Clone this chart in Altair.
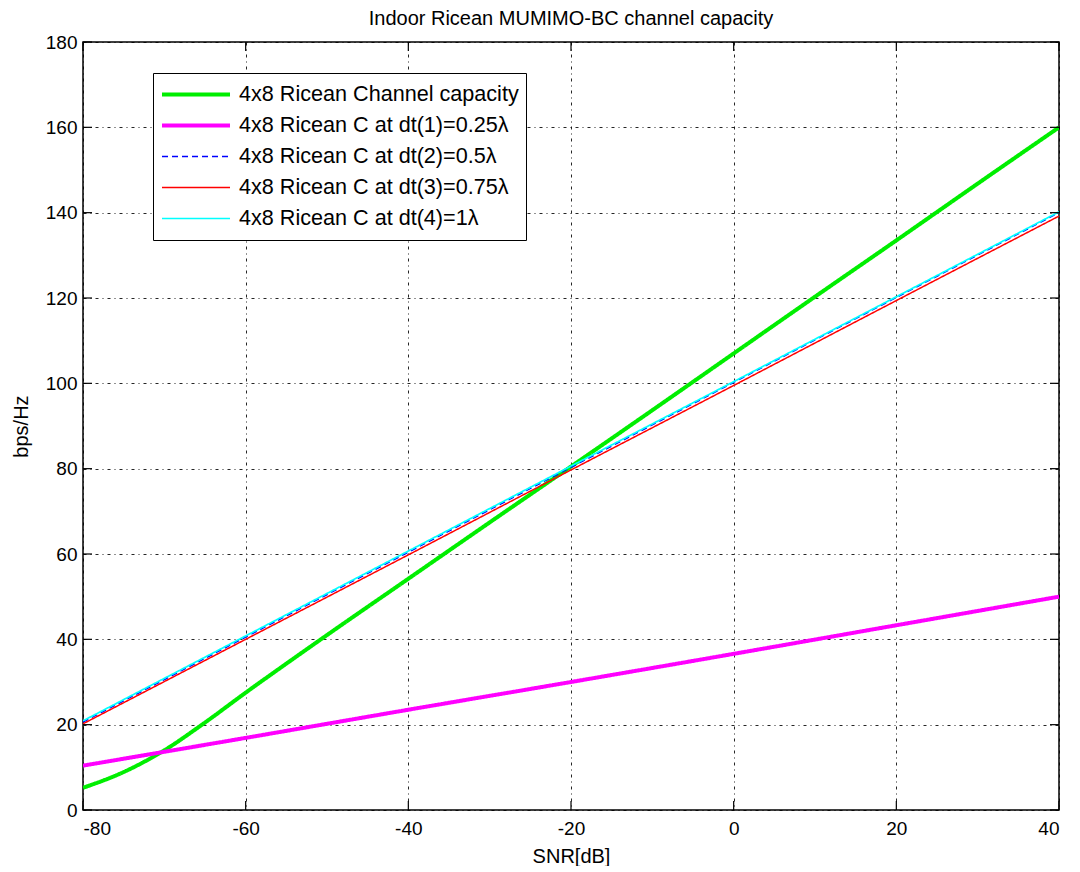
import altair as alt
import pandas as pd

# ---- data ----
series_names = [
    "4x8 Ricean Channel capacity",
    "4x8 Ricean C at dt(1)=0.25λ",
    "4x8 Ricean C at dt(2)=0.5λ",
    "4x8 Ricean C at dt(3)=0.75λ",
    "4x8 Ricean C at dt(4)=1λ",
]
colors = ["#00ee00", "#ff00ff", "#0000ff", "#ff0000", "#00ffff"]
dashes = [[1, 0], [1, 0], [6, 4], [1, 0], [1, 0]]
widths = [4, 4, 1.3, 1.5, 1.7]

snr_green = [-80, -75, -70, -65, -60, -55, -50, -40, -30, -20, -10, 0, 10, 20, 30, 40]
cap_green = [5.2, 8.9, 14.0, 20.5, 27.5, 34.3, 41.0, 54.2, 67.4, 80.5, 93.7, 107.0, 120.3, 133.5, 146.8, 160.0]

snr_lin = [-80, -60, -40, -20, 0, 20, 40]
cap_dt1 = [10.4, 16.9, 23.5, 30.0, 36.6, 43.3, 50.0]
cap_dt2 = [20.6, 40.5, 60.4, 80.3, 100.2, 120.1, 140.0]
cap_dt3 = [20.2, 40.0, 59.8, 79.7, 99.5, 119.4, 139.2]
cap_dt4 = [20.9, 40.8, 60.7, 80.6, 100.4, 120.3, 140.2]

x_ticks = [-80, -60, -40, -20, 0, 20, 40]
y_ticks = [0, 20, 40, 60, 80, 100, 120, 140, 160, 180]

W, H = 976, 768
FONT = "Liberation Sans"

rows = []
for x, y in zip(snr_green, cap_green):
    rows.append({"snr": x, "cap": y, "series": series_names[0], "ord": 0})
for k, vals in enumerate([cap_dt1, cap_dt2, cap_dt3, cap_dt4], start=1):
    for x, y in zip(snr_lin, vals):
        rows.append({"snr": x, "cap": y, "series": series_names[k], "ord": k})
df = pd.DataFrame(rows)

xscale = alt.Scale(domain=[-80, 40], nice=False, zero=False)
yscale = alt.Scale(domain=[0, 180], nice=False, zero=False)

leg = alt.Legend(
    title=None,
    orient="none",
    legendX=70,
    legendY=31,
    symbolType="stroke",
    symbolSize=4624,
    symbolOpacity=1,
    clipHeight=29,
    rowPadding=2,
    labelFontSize=21.6,
    labelFont=FONT,
    labelColor="black",
    labelOffset=7,
    labelLimit=400,
    padding=7,
    strokeColor="black",
    fillColor="white",
    cornerRadius=0,
)

lines = alt.Chart(df).mark_line(clip=True, interpolate="monotone").encode(
    x=alt.X("snr:Q", scale=xscale,
            axis=alt.Axis(values=x_ticks, title="SNR[dB]", labelExpr="'' + datum.value")),
    y=alt.Y("cap:Q", scale=yscale,
            axis=alt.Axis(values=y_ticks, title="bps/Hz", labelExpr="'' + datum.value")),
    color=alt.Color("series:N", scale=alt.Scale(domain=series_names, range=colors), legend=leg),
    strokeDash=alt.StrokeDash("series:N", scale=alt.Scale(type="ordinal", domain=series_names, range=dashes), legend=leg),
    strokeWidth=alt.StrokeWidth("series:N", scale=alt.Scale(type="ordinal", domain=series_names, range=widths), legend=leg),
    order="ord:Q",
)

tx = pd.DataFrame({"t": x_ticks})
ty = pd.DataFrame({"t": y_ticks})
tick_color = "black"
bottom_ticks = alt.Chart(tx).mark_rule(color=tick_color, strokeWidth=1.2).encode(
    x=alt.X("t:Q", scale=xscale), y=alt.value(H), y2=alt.value(H - 9))
top_ticks = alt.Chart(tx).mark_rule(color=tick_color, strokeWidth=1.2).encode(
    x=alt.X("t:Q", scale=xscale), y=alt.value(0), y2=alt.value(9))
left_ticks = alt.Chart(ty).mark_rule(color=tick_color, strokeWidth=1.2).encode(
    y=alt.Y("t:Q", scale=yscale), x=alt.value(0), x2=alt.value(9))
right_ticks = alt.Chart(ty).mark_rule(color=tick_color, strokeWidth=1.2).encode(
    y=alt.Y("t:Q", scale=yscale), x=alt.value(W), x2=alt.value(W - 9))

chart = alt.layer(lines, bottom_ticks, top_ticks, left_ticks, right_ticks).properties(
    width=W,
    height=H,
    padding={"left": 3, "top": 1, "right": 5, "bottom": 0},
    background="white",
    title=alt.TitleParams(
        text="Indoor Ricean MUMIMO-BC channel capacity",
        font=FONT, fontSize=20, fontWeight="normal", color="black", offset=4,
    ),
).configure_view(
    stroke="black", strokeWidth=1.5
).configure_axis(
    grid=True,
    gridColor="black",
    gridOpacity=0.85,
    gridDash=[3, 4, 1, 4],
    gridWidth=1,
    domain=False,
    ticks=False,
    labelFont=FONT,
    labelFontSize=19,
    labelColor="black",
    titleFont=FONT,
    titleFontSize=20,
    titleFontWeight="normal",
    titleColor="black",
).configure_axisX(
    labelPadding=9,
    titlePadding=8,
).configure_axisY(
    labelPadding=6,
    titlePadding=14,
)

chart.save("out.html", embed_options={"renderer": "svg", "actions": False})
